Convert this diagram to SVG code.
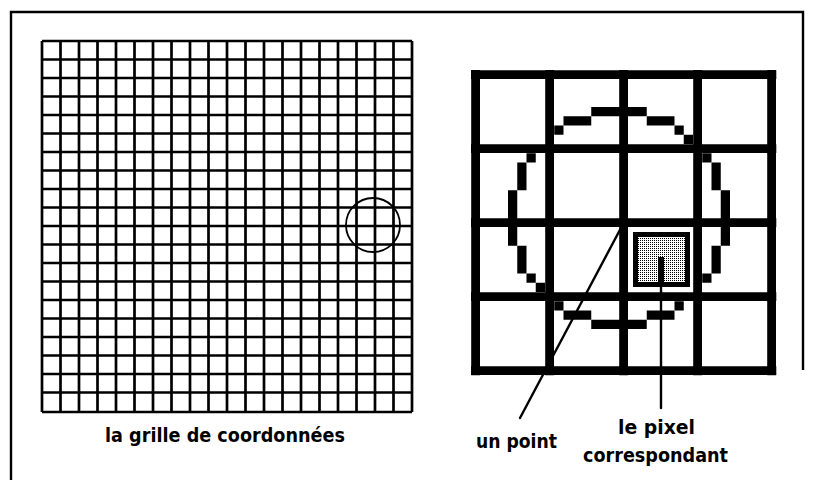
<svg xmlns="http://www.w3.org/2000/svg" width="814" height="480" viewBox="0 0 814 480">
<style>
.frame{fill:none;stroke:#000;stroke-width:2.4}
.fine{fill:none;stroke:#000;stroke-width:2.7}
.thick{fill:none;stroke:#000;stroke-width:8.8}
.px{fill:#000}
.lead{fill:none;stroke:#000;stroke-width:2.4;stroke-linecap:round}
.lbl{font-family:"DejaVu Sans","Liberation Sans",sans-serif;font-weight:bold;font-size:19px;fill:#000}
</style>
<defs>
<pattern id="stip" width="2" height="2" patternUnits="userSpaceOnUse">
<rect width="2" height="2" fill="#fff"/>
<rect width="1" height="1" fill="#000"/>
</pattern>
</defs>
<rect width="814" height="480" fill="#fff"/>
<path class="frame" d="M11,480 V12 H803 V370"/>
<g id="coord-grid">
<path class="fine" d="M42,41V412M60.5,41V412M79,41V412M97.5,41V412M116,41V412M134.5,41V412M153,41V412M171.5,41V412M190,41V412M208.5,41V412M227,41V412M245.5,41V412M264,41V412M282.5,41V412M301,41V412M319.5,41V412M338,41V412M356.5,41V412M375,41V412M393.5,41V412M412,41V412
M42,41H412M42,59.5H412M42,78H412M42,96.5H412M42,115H412M42,133.5H412M42,152H412M42,170.5H412M42,189H412M42,207.5H412M42,226H412M42,244.5H412M42,263H412M42,281.5H412M42,300H412M42,318.5H412M42,337H412M42,355.5H412M42,374H412M42,392.5H412M42,412H412"/>
<circle cx="373" cy="225" r="27" fill="none" stroke="#000" stroke-width="1.8"/>
<text class="lbl" x="225" y="442" text-anchor="middle" textLength="240" lengthAdjust="spacingAndGlyphs">la grille de coordonnées</text>
</g>
<g id="pixel-grid">
<g id="circle-pixels">
<rect class="px" x="554.25" y="125.5" width="9.25" height="9.25"/>
<rect class="px" x="563.5" y="116.25" width="27.75" height="9.25"/>
<rect class="px" x="591.25" y="107" width="55.5" height="9.25"/>
<rect class="px" x="646.75" y="116.25" width="27.75" height="9.25"/>
<rect class="px" x="674.5" y="125.5" width="9.25" height="9.25"/>
<rect class="px" x="683.75" y="134.75" width="9.25" height="9.25"/>
<rect class="px" x="526.5" y="153.25" width="9.25" height="9.25"/>
<rect class="px" x="517.25" y="162.5" width="9.25" height="27.75"/>
<rect class="px" x="508" y="190.25" width="9.25" height="55.5"/>
<rect class="px" x="517.25" y="245.75" width="9.25" height="27.75"/>
<rect class="px" x="526.5" y="273.5" width="9.25" height="9.25"/>
<rect class="px" x="535.75" y="282.75" width="9.25" height="9.25"/>
<rect class="px" x="554.25" y="301.25" width="9.25" height="9.25"/>
<rect class="px" x="563.5" y="310.5" width="27.75" height="9.25"/>
<rect class="px" x="591.25" y="319.75" width="55.5" height="9.25"/>
<rect class="px" x="646.75" y="310.5" width="27.75" height="9.25"/>
<rect class="px" x="674.5" y="301.25" width="9.25" height="9.25"/>
<rect class="px" x="702.25" y="153.25" width="9.25" height="9.25"/>
<rect class="px" x="711.5" y="162.5" width="9.25" height="27.75"/>
<rect class="px" x="720.75" y="190.25" width="9.25" height="55.5"/>
<rect class="px" x="711.5" y="245.75" width="9.25" height="27.75"/>
<rect class="px" x="702.25" y="273.5" width="9.25" height="9.25"/>
</g>
<path class="thick" d="M475.6,70V375.3M549.6,70V375.3M623.6,70V375.3M697.6,70V375.3M771.6,70V375.3M471,74.6H776.3M471,148.6H776.3M471,222.6H776.3M471,296.6H776.3M471,370.6H776.3"/>
</g>
<g id="highlighted-pixel">
<rect x="635.5" y="234.5" width="52" height="50" fill="url(#stip)" stroke="#000" stroke-width="5"/>
<rect class="px" x="658" y="257" width="6" height="27"/>
</g>
<g id="connectors">
<path class="lead" d="M622,226 L520,418"/>
<path class="lead" d="M661,284 V408"/>
</g>
<g id="label-point">
<text class="lbl" x="476" y="448" textLength="81" lengthAdjust="spacingAndGlyphs">un point</text>
</g>
<g id="label-pixel">
<text class="lbl" x="656.5" y="434" text-anchor="middle" textLength="77" lengthAdjust="spacingAndGlyphs">le pixel</text>
<text class="lbl" x="655.5" y="462" text-anchor="middle" textLength="145" lengthAdjust="spacingAndGlyphs">correspondant</text>
</g>
</svg>
